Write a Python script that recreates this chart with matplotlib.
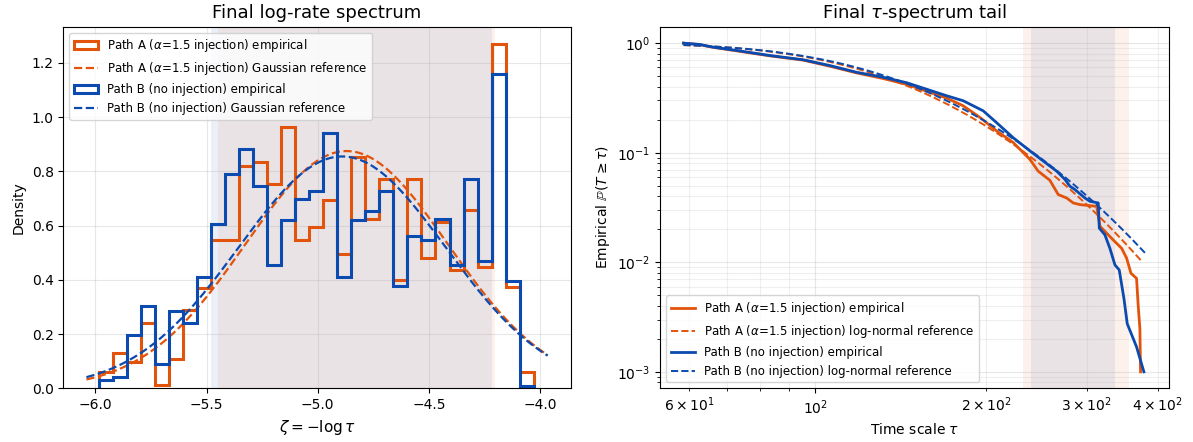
import math
import numpy as np
import matplotlib
matplotlib.use("Agg")
import matplotlib.pyplot as plt

# histogram of zeta = -log tau (31 bins)
zeta_lo, zeta_hi, n_bins = -5.984, -4.029, 31
dens_a = [0.061, 0.129, 0.096, 0.239, 0.012, 0.108, 0.288, 0.371, 0.546, 0.546,
          0.820, 0.834, 0.755, 0.963, 0.546, 0.595, 0.693, 0.497, 0.853, 0.623,
          0.771, 0.399, 0.771, 0.481, 0.615, 0.436, 0.656, 0.448, 1.270, 0.374, 0.061]
dens_b = [0.031, 0.043, 0.196, 0.303, 0.088, 0.285, 0.239, 0.409, 0.607, 0.789,
          0.881, 0.746, 0.454, 0.622, 0.697, 0.728, 0.941, 0.409, 0.622, 0.653,
          0.728, 0.378, 0.562, 0.546, 0.623, 0.454, 0.773, 0.470, 1.160, 0.396, 0.010]

# gaussian fit parameters of zeta
mu_a, sd_a = -4.87, 0.456
mu_b, sd_b = -4.89, 0.4666
zeta_curve_lo, zeta_curve_hi = -6.04, -3.966

# shaded fit windows
span_a_zeta = (-5.448, -4.201)
span_b_zeta = (-5.481, -4.216)
span_a_tau = (231.6, 356.7)
span_b_tau = (239.5, 336.6)

# empirical tail P(T >= tau)
tau_a = [58.6, 62.6, 66.1, 72.7, 83.2, 95.2, 106.1, 118.2, 131.7, 144.8, 170.2, 182.0,
         194.8, 208.4, 222.9, 238.5, 246.6, 258.6, 267.5, 276.8, 284.3, 292.1, 312.6,
         316.8, 334.2, 345.9, 352.9, 359.2, 367.4, 369.8, 372.4, 373.4]
surv_a = [1.0, 0.968, 0.915, 0.85, 0.765, 0.70, 0.615, 0.535, 0.475, 0.42, 0.315, 0.268,
          0.21, 0.158, 0.124, 0.087, 0.0679, 0.056, 0.0415, 0.0386, 0.0348, 0.0336, 0.0324,
          0.0213, 0.0160, 0.0134, 0.0109, 0.00793, 0.00713, 0.00407, 0.00248, 0.001]
tau_b = [58.6, 62.6, 66.1, 72.7, 83.2, 95.2, 106.1, 118.2, 131.7, 144.8, 170.2, 182.0,
         197.4, 208.4, 222.9, 238.5, 258.6, 265.8, 274.9, 280.4, 286.2, 298.1, 304.2,
         314.6, 315.9, 323.2, 329.8, 336.6, 342.5, 349.1, 353.8, 367.4, 378.5]
surv_b = [1.0, 0.973, 0.919, 0.857, 0.771, 0.705, 0.624, 0.542, 0.488, 0.435, 0.331, 0.298,
          0.241, 0.188, 0.137, 0.104, 0.0755, 0.0679, 0.057, 0.0495, 0.0461, 0.0386, 0.036,
          0.0348, 0.0205, 0.0178, 0.0134, 0.00946, 0.00851, 0.00467, 0.00275, 0.00169, 0.001]
tau_ref_a = (58.6, 374.9)
tau_ref_b = (58.6, 381.4)

label_a = r"Path A ($\alpha$=1.5 injection)"
label_b = "Path B (no injection)"
c_a = "#e2530c"
c_b = "#0b4bb0"


def gauss_pdf(z, mu, sd):
    return np.exp(-0.5 * ((z - mu) / sd) ** 2) / (sd * math.sqrt(2 * math.pi))


def lognorm_surv(t, mu, sd):
    # P(T >= t) with zeta = -log T ~ N(mu, sd)
    z = (-np.log(t) - mu) / sd
    return np.array([0.5 * (1 + math.erf(v / math.sqrt(2))) for v in z])


fig = plt.figure(figsize=(11.93, 4.42), dpi=100)
ax1 = fig.add_axes([0.0531, 0.1215, 0.4253, 0.8181])
ax2 = fig.add_axes([0.5535, 0.1215, 0.4263, 0.8181])

# left: histograms
edges = np.linspace(zeta_lo, zeta_hi, n_bins + 1)
zc = np.linspace(zeta_curve_lo, zeta_curve_hi, 300)
ax1.axvspan(*span_a_zeta, color=c_a, alpha=0.08, lw=0)
ax1.axvspan(*span_b_zeta, color=c_b, alpha=0.08, lw=0)
ax1.hist(edges[:-1], bins=edges, weights=dens_a, histtype="step", color=c_a, lw=2.2,
         label=label_a + " empirical")
ax1.plot(zc, gauss_pdf(zc, mu_a, sd_a), "--", color=c_a, lw=1.6,
         label=label_a + " Gaussian reference")
ax1.hist(edges[:-1], bins=edges, weights=dens_b, histtype="step", color=c_b, lw=2.2,
         label=label_b + " empirical")
ax1.plot(zc, gauss_pdf(zc, mu_b, sd_b), "--", color=c_b, lw=1.6,
         label=label_b + " Gaussian reference")
ax1.set_ylim(0, None)
ax1.set_xticks([-6.0, -5.5, -5.0, -4.5, -4.0])
ax1.grid(True, alpha=0.3)
ax1.set_title("Final log-rate spectrum", fontsize=13)
ax1.set_xlabel(r"$\zeta = -\log\tau$", fontsize=11)
ax1.set_ylabel("Density", fontsize=10)
ax1.legend(loc="upper left", fontsize=8.5)

# right: survival tail
ax2.axvspan(*span_a_tau, color=c_a, alpha=0.08, lw=0)
ax2.axvspan(*span_b_tau, color=c_b, alpha=0.08, lw=0)
ta = np.geomspace(*tau_ref_a, 300)
tb = np.geomspace(*tau_ref_b, 300)
ax2.plot(tau_a, surv_a, color=c_a, lw=2.0, label=label_a + " empirical")
ax2.plot(ta, lognorm_surv(ta, mu_a, sd_a), "--", color=c_a, lw=1.4,
         label=label_a + " log-normal reference")
ax2.plot(tau_b, surv_b, color=c_b, lw=2.0, label=label_b + " empirical")
ax2.plot(tb, lognorm_surv(tb, mu_b, sd_b), "--", color=c_b, lw=1.4,
         label=label_b + " log-normal reference")
ax2.set_xscale("log")
ax2.set_yscale("log")
ax2.grid(True, which="major", alpha=0.3)
ax2.grid(True, which="minor", alpha=0.2)
ax2.set_title(r"Final $\tau$-spectrum tail", fontsize=13)
ax2.set_xlabel(r"Time scale $\tau$", fontsize=10)
ax2.set_ylabel(r"Empirical $\mathbb{P}(T \geq \tau)$", fontsize=10)
ax2.legend(loc="lower left", fontsize=8.5)

fig.savefig("out.png", dpi=100)
